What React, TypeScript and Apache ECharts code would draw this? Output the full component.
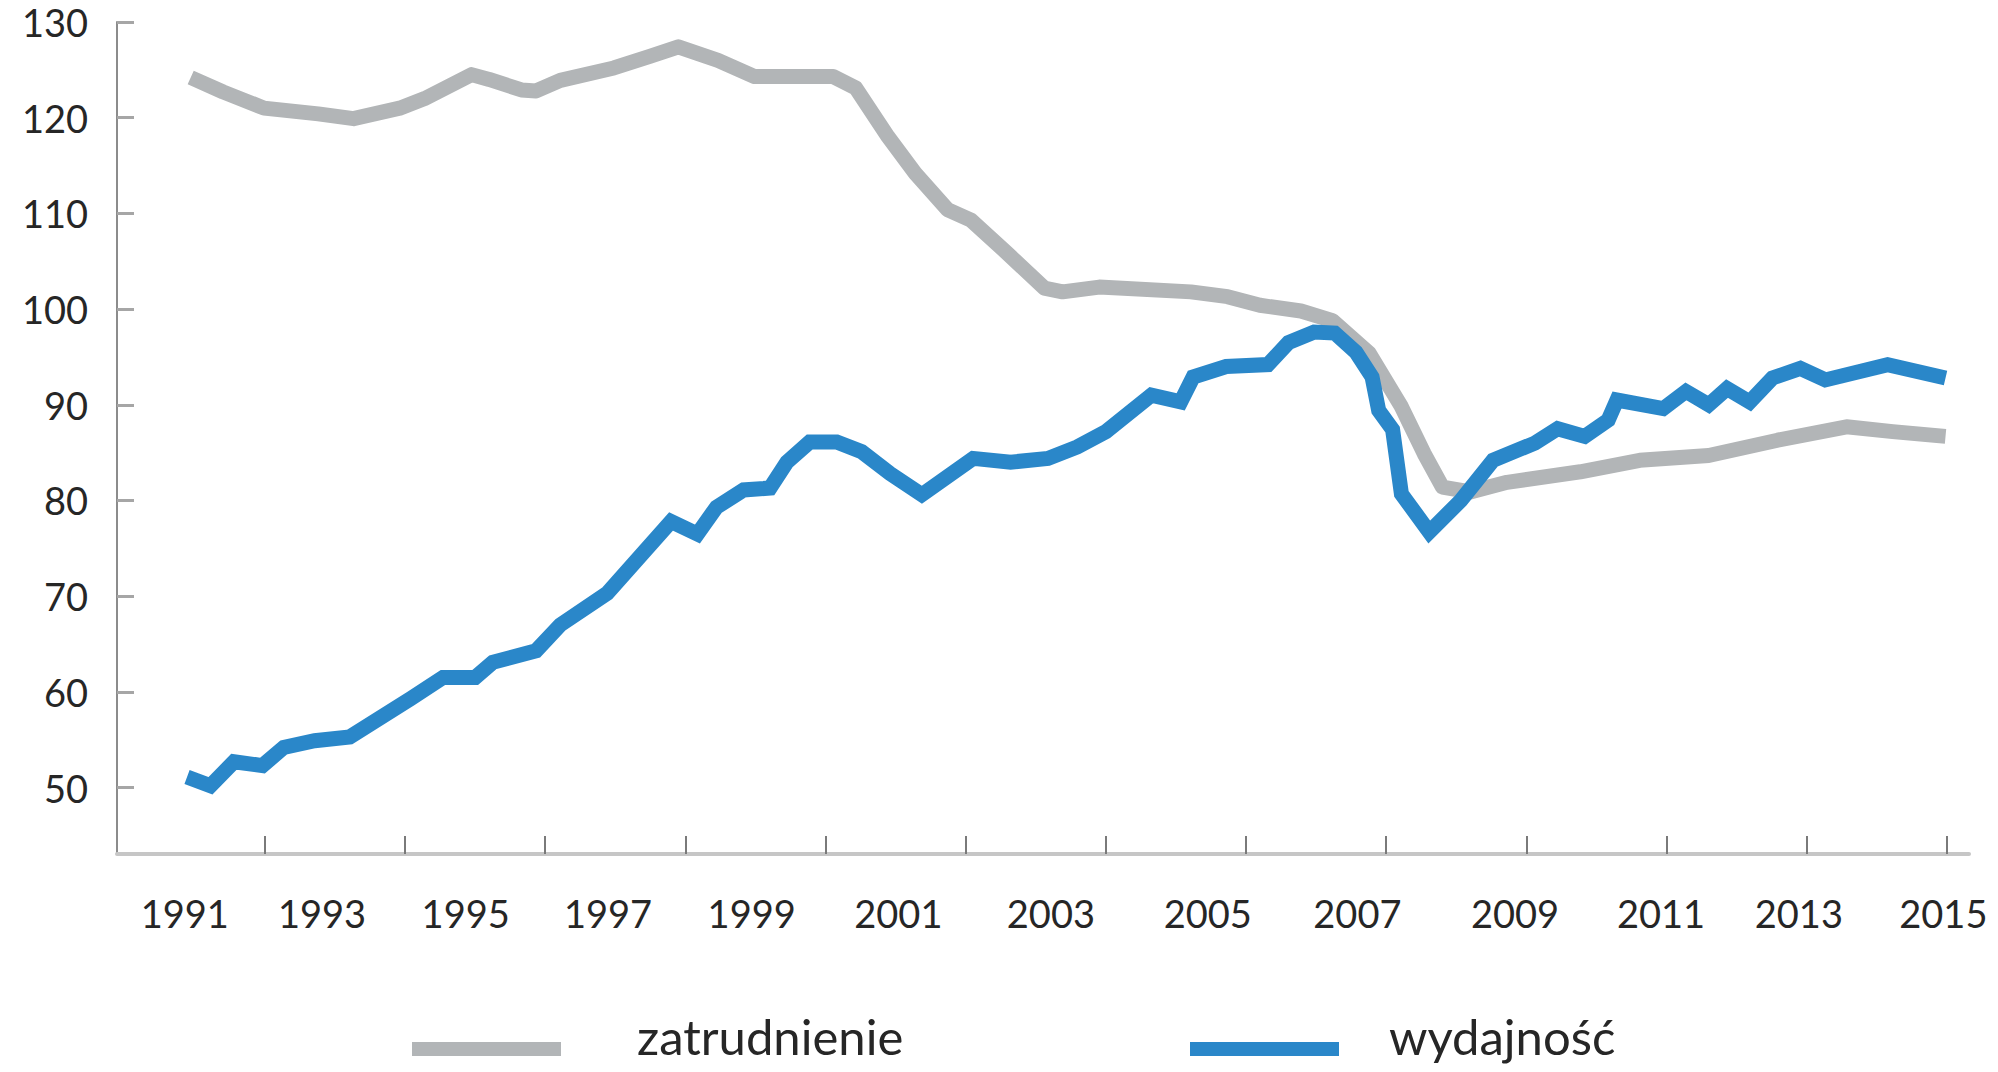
import React, { useEffect, useRef } from "react";
import * as echarts from "echarts";

// ---- data ----
const xLabelYears = [1991, 1993, 1995, 1997, 1999, 2001, 2003, 2005, 2007, 2009, 2011, 2013, 2015];
const yTickValues = [50, 60, 70, 80, 90, 100, 110, 120, 130];

const zatName = "zatrudnienie";
const zatYears = [
  1991.05, 1991.49, 1992.05, 1992.79, 1993.27, 1993.9, 1994.24, 1994.88, 1995.12, 1995.56,
  1995.76, 1996.09, 1996.82, 1997.31, 1997.7, 1998.24, 1998.74, 1999.81, 2000.12, 2000.56,
  2000.93, 2001.37, 2001.69, 2002.19, 2002.69, 2002.94, 2003.44, 2004.69, 2005.19, 2005.63,
  2006.19, 2006.62, 2007.12, 2007.56, 2007.87, 2008.12, 2008.5, 2009.0, 2010.0, 2010.81,
  2011.75, 2012.69, 2013.63, 2014.26, 2014.98,
];
const zatValues = [
  124.2, 122.7, 121.0, 120.4, 119.9, 121.0, 122.0, 124.5, 124.0, 122.9,
  122.8, 123.9, 125.2, 126.4, 127.4, 126.0, 124.3, 124.3, 123.1, 118.0,
  114.2, 110.4, 109.3, 105.8, 102.2, 101.8, 102.3, 101.8, 101.3, 100.4,
  99.8, 98.8, 95.4, 89.8, 84.9, 81.4, 80.9, 81.9, 83.0, 84.2,
  84.7, 86.3, 87.7, 87.2, 86.7,
];

const wydName = "wydajność";
const wydYears = [
  1991.0, 1991.32, 1991.64, 1992.03, 1992.32, 1992.74, 1993.22, 1994.05, 1994.49, 1994.93,
  1995.17, 1995.76, 1996.09, 1996.73, 1997.6, 1997.96, 1998.22, 1998.59, 1998.95, 1999.18,
  1999.49, 1999.86, 2000.2, 2000.59, 2001.02, 2001.72, 2002.23, 2002.74, 2003.14, 2003.53,
  2004.15, 2004.55, 2004.72, 2005.17, 2005.74, 2006.02, 2006.37, 2006.65, 2006.94, 2007.16,
  2007.25, 2007.44, 2007.56, 2007.94, 2008.37, 2008.81, 2009.38, 2009.69, 2010.06, 2010.38,
  2010.5, 2011.13, 2011.44, 2011.75, 2012.0, 2012.31, 2012.62, 2013.0, 2013.34, 2014.19,
  2014.98,
];
const wydValues = [
  51.1, 50.2, 52.7, 52.3, 54.2, 54.9, 55.3, 59.3, 61.5, 61.5,
  63.1, 64.3, 67.0, 70.3, 77.8, 76.5, 79.3, 81.1, 81.3, 84.0,
  86.1, 86.1, 85.1, 82.8, 80.6, 84.4, 84.0, 84.4, 85.6, 87.2,
  91.0, 90.3, 92.9, 94.0, 94.2, 96.5, 97.6, 97.5, 95.5, 92.9,
  89.4, 87.4, 80.7, 76.7, 80.0, 84.2, 86.0, 87.5, 86.7, 88.4,
  90.5, 89.6, 91.4, 90.0, 91.7, 90.3, 92.8, 93.8, 92.6, 94.2,
  92.8,
];

// ---- styles ----
const GRAY = "#b2b5b7";
const BLUE = "#2a87c9";
const TEXT = "#262626";
const FONT = "Lato";

export default function App() {
  const ref = useRef<HTMLDivElement>(null);

  useEffect(() => {
    document.body.style.margin = "0";
    if (!ref.current) return;
    const chart = echarts.init(ref.current, undefined, { renderer: "svg" });

    // tick marks of the original sit every ~1.91 years, ending at 2015
    const tickStep = 1.9117;
    const xTickValues = Array.from({ length: 13 }, (_, k) => 2015 - (12 - k) * tickStep);
    // the original's year labels are hand-placed slightly off the year positions
    const labelShift = [-0.03, -0.16, -0.2, -0.26, -0.3, -0.3, -0.22, -0.08, -0.04, 0.11, 0.1, -0.02, -0.05];
    const labelPositions = xLabelYears.map((y, i) => y + labelShift[i]);
    const labelText = new Map(labelPositions.map((p, i) => [p.toFixed(3), String(xLabelYears[i])]));

    const legendItem = (name: string, color: string, swatchX: number, textX: number) => ({
      type: "group",
      children: [
        { type: "rect", shape: { x: swatchX, y: 1042, width: 149, height: 14 }, style: { fill: color } },
        {
          type: "text",
          x: textX,
          y: 1036,
          style: {
            text: name,
            fontSize: 49,
            fontFamily: FONT,
            fill: TEXT,
            align: "left",
            verticalAlign: "middle",
          },
        },
      ],
    });

    chart.setOption({
      animation: false,
      backgroundColor: "#ffffff",
      grid: { left: 117, right: 29, top: 22, bottom: 218, containLabel: false },
      xAxis: {
        type: "value",
        min: 1990.045,
        max: 2015.3,
        axisLine: { show: true, lineStyle: { color: "#c6c6c6", width: 4 } },
        axisTick: {
          show: true,
          inside: true,
          length: 18,
          customValues: xTickValues,
          lineStyle: { color: "#7a7a7a", width: 2 },
        },
        axisLabel: {
          customValues: labelPositions,
          margin: 40,
          fontSize: 38,
          fontFamily: FONT,
          color: TEXT,
          formatter: (v: number) => labelText.get(v.toFixed(3)) ?? String(Math.round(v)),
        },
        splitLine: { show: false },
      },
      yAxis: {
        type: "value",
        min: 43.06,
        max: 130,
        axisLine: { show: true, lineStyle: { color: "#8c8c8c", width: 2 } },
        axisTick: {
          show: true,
          inside: true,
          length: 17,
          customValues: yTickValues,
          lineStyle: { color: "#a6a6a6", width: 3 },
        },
        axisLabel: {
          customValues: yTickValues,
          margin: 29,
          fontSize: 38,
          fontFamily: FONT,
          color: TEXT,
          padding: [26, 0, 0, 0],
        },
        splitLine: { show: false },
      },
      graphic: [
        legendItem(zatName, GRAY, 412, 637),
        legendItem(wydName, BLUE, 1190, 1389),
      ],
      series: [
        {
          name: zatName,
          type: "line",
          data: zatYears.map((x, i) => [x, zatValues[i]]),
          showSymbol: false,
          symbol: "none",
          itemStyle: { color: GRAY },
          lineStyle: { color: GRAY, width: 15, join: "round", cap: "butt" },
          z: 2,
        },
        {
          name: wydName,
          type: "line",
          data: wydYears.map((x, i) => [x, wydValues[i]]),
          showSymbol: false,
          symbol: "none",
          itemStyle: { color: BLUE },
          lineStyle: { color: BLUE, width: 15, join: "miter", cap: "butt" },
          z: 3,
        },
      ],
    });

    return () => chart.dispose();
  }, []);

  return <div ref={ref} style={{ width: 1998, height: 1072 }} />;
}
